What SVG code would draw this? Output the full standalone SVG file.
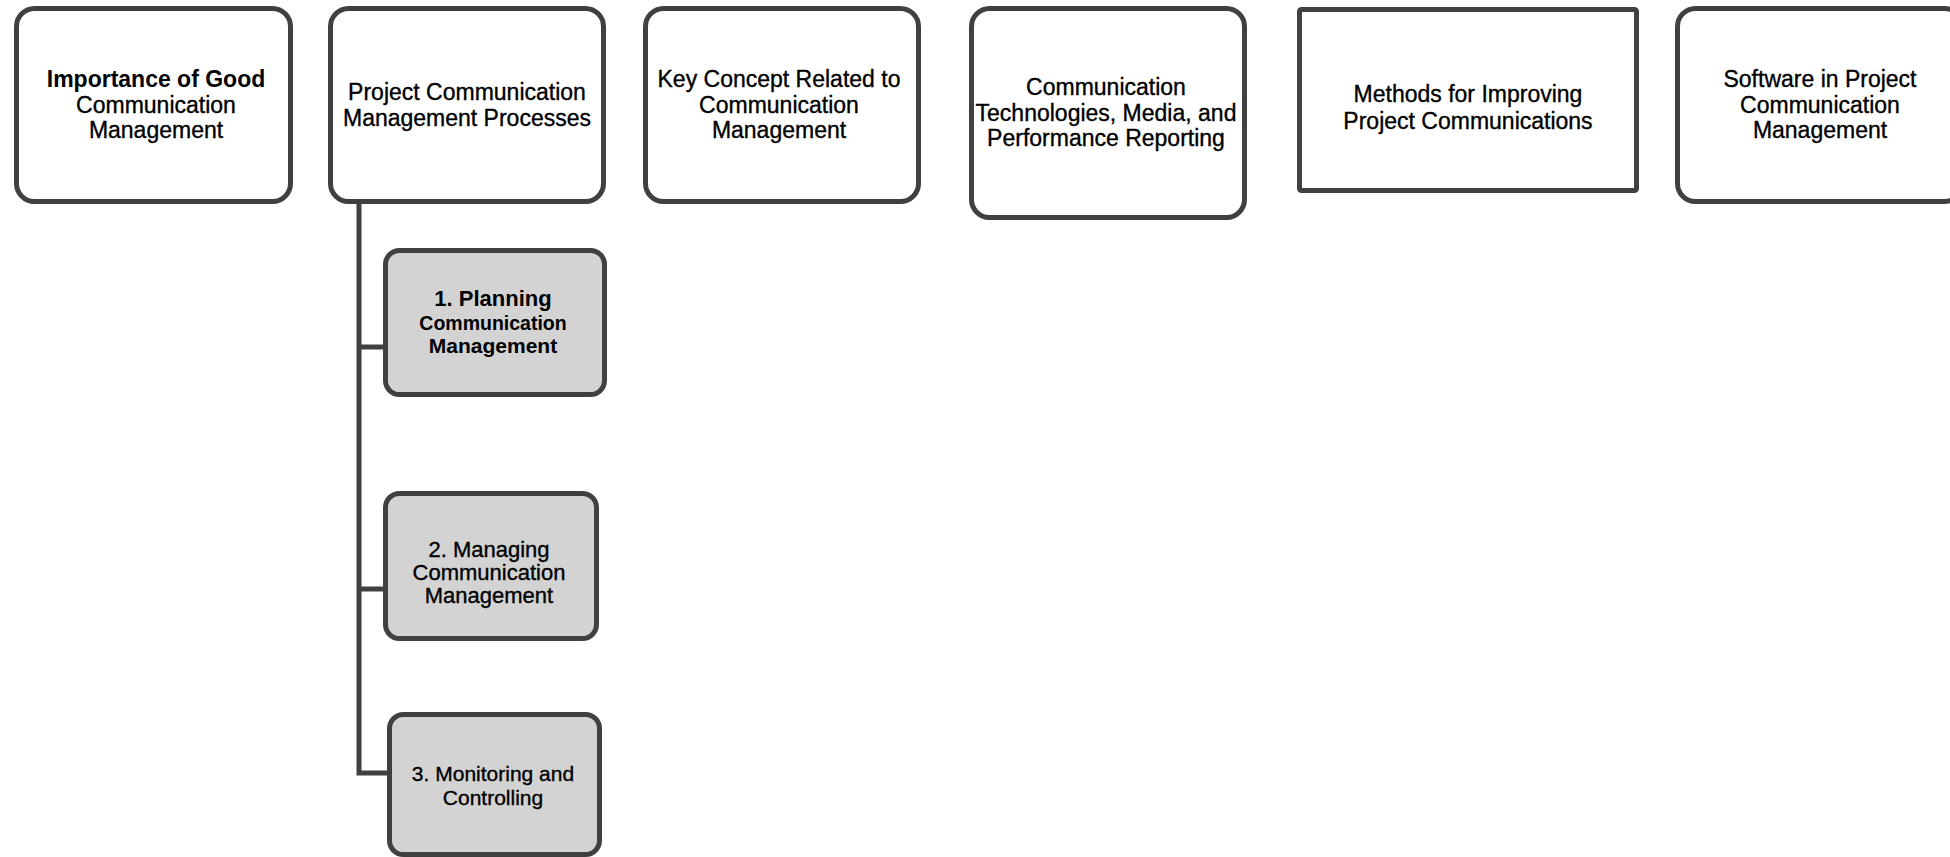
<svg xmlns="http://www.w3.org/2000/svg" width="1950" height="857" viewBox="0 0 1950 857">
<style>
.box{fill:#ffffff;stroke:#404040;stroke-width:5}
.sub{fill:#d3d3d3;stroke:#404040;stroke-width:5}
.conn{fill:none;stroke:#404040;stroke-width:5}
text{font-family:"Liberation Sans",Arial,sans-serif;fill:#000;text-anchor:middle;stroke:#000;stroke-width:0.35}
.t{font-size:23px}
.b{font-weight:bold;stroke-width:0}
</style>
<rect width="1950" height="857" fill="#ffffff"/>
<g id="connectors">
<path class="conn" d="M359,204 V773 H390"/>
<path class="conn" d="M359,347 H386"/>
<path class="conn" d="M359,589 H386"/>
</g>
<g id="n1">
<rect class="box" x="16.5" y="8.5" width="274" height="193" rx="18"/>
<text class="t"><tspan x="156" y="87" class="b">Importance of Good</tspan><tspan x="156" y="113">Communication</tspan><tspan x="156" y="138">Management</tspan></text>
</g>
<g id="n2">
<rect class="box" x="330.5" y="8.5" width="273" height="193" rx="18"/>
<text class="t"><tspan x="467" y="100">Project Communication</tspan><tspan x="467" y="126">Management Processes</tspan></text>
</g>
<g id="n3">
<rect class="box" x="645.5" y="8.5" width="273" height="193" rx="18"/>
<text class="t"><tspan x="779" y="87">Key Concept Related to</tspan><tspan x="779" y="113">Communication</tspan><tspan x="779" y="138">Management</tspan></text>
</g>
<g id="n4">
<rect class="box" x="971.5" y="8.5" width="273" height="209" rx="18"/>
<text class="t"><tspan x="1106" y="95">Communication</tspan><tspan x="1106" y="121">Technologies, Media, and</tspan><tspan x="1106" y="146">Performance Reporting</tspan></text>
</g>
<g id="n5">
<rect class="box" x="1299.5" y="9.5" width="337" height="181" rx="2"/>
<text class="t"><tspan x="1468" y="102">Methods for Improving</tspan><tspan x="1468" y="129">Project Communications</tspan></text>
</g>
<g id="n6">
<rect class="box" x="1677.5" y="8.5" width="285" height="193" rx="18"/>
<text class="t"><tspan x="1820" y="87">Software in Project</tspan><tspan x="1820" y="113">Communication</tspan><tspan x="1820" y="138">Management</tspan></text>
</g>
<g id="s1">
<rect class="sub" x="385.5" y="250.5" width="219" height="144" rx="14"/>
<text class="b"><tspan x="493" y="306" font-size="22">1. Planning</tspan><tspan x="493" y="330" font-size="19.5">Communication</tspan><tspan x="493" y="353" font-size="21">Management</tspan></text>
</g>
<g id="s2">
<rect class="sub" x="385.5" y="493.5" width="211" height="145" rx="14"/>
<text font-size="22"><tspan x="489" y="557">2. Managing</tspan><tspan x="489" y="580">Communication</tspan><tspan x="489" y="603">Management</tspan></text>
</g>
<g id="s3">
<rect class="sub" x="389.5" y="714.5" width="210" height="140" rx="14"/>
<text font-size="21"><tspan x="493" y="781">3. Monitoring and</tspan><tspan x="493" y="805">Controlling</tspan></text>
</g>
</svg>
